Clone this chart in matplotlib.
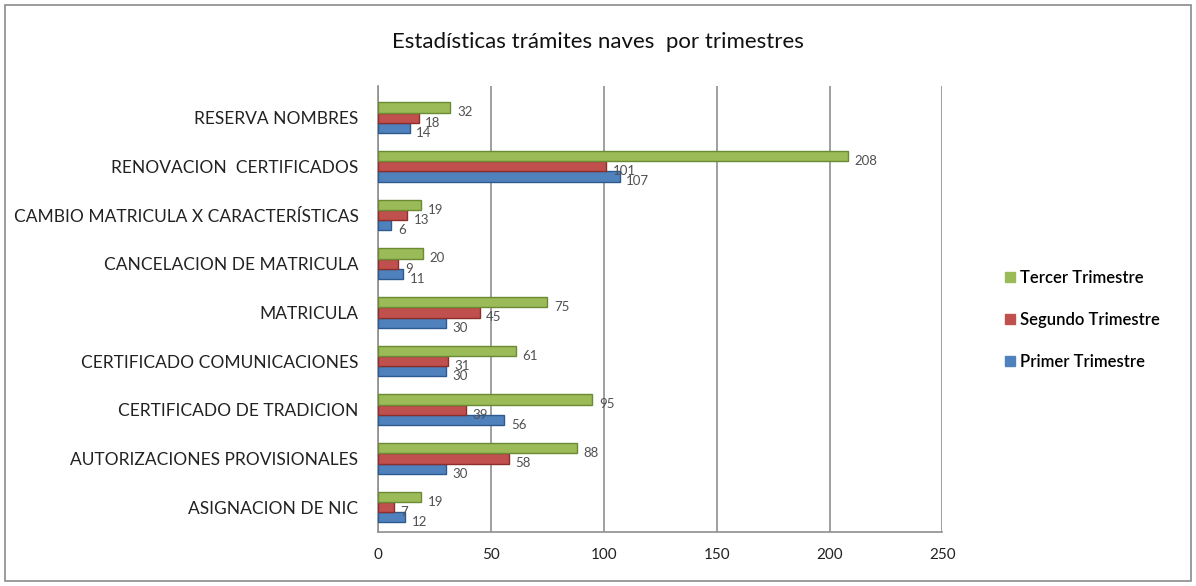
import matplotlib.pyplot as plt
import numpy as np
from matplotlib.patches import Rectangle
from matplotlib.lines import Line2D

categorias = [
    "ASIGNACION DE NIC",
    "AUTORIZACIONES PROVISIONALES",
    "CERTIFICADO DE TRADICION",
    "CERTIFICADO COMUNICACIONES",
    "MATRICULA",
    "CANCELACION DE MATRICULA",
    "CAMBIO MATRICULA X CARACTERÍSTICAS",
    "RENOVACION  CERTIFICADOS",
    "RESERVA NOMBRES",
]
primer = [12, 30, 56, 30, 30, 11, 6, 107, 14]
segundo = [7, 58, 39, 31, 45, 9, 13, 101, 18]
tercer = [19, 88, 95, 61, 75, 20, 19, 208, 32]

series = [
    ("Primer Trimestre", primer, "#4F81BD", "#2c5a8f"),
    ("Segundo Trimestre", segundo, "#C0504D", "#8c2f2c"),
    ("Tercer Trimestre", tercer, "#9BBB59", "#6a8a33"),
]

fuente = ["Lato", "DejaVu Sans"]

fig = plt.figure(figsize=(11.96, 5.86), dpi=100)
fig.patches.append(Rectangle((0.004, 0.008), 0.992, 0.984, transform=fig.transFigure,
                             fill=False, edgecolor="#8a8a8a", linewidth=1.2))
ax = fig.add_axes([0.316, 0.093, 0.472, 0.761])

y = np.arange(len(categorias))
alto = 0.21
for i, (nombre, vals, color, borde) in enumerate(series):
    pos = y + (i - 1) * alto
    ax.barh(pos, vals, height=alto, color=color, edgecolor=borde, linewidth=1.0,
            label=nombre, zorder=3)
    for p, v in zip(pos, vals):
        ax.text(v + 3, p - 0.1, str(v), va="center", ha="left", fontsize=9.5,
                color="#505050", family=fuente, zorder=4)

ax.set_xlim(0, 250)
ax.set_ylim(-0.5, 8.66)
ax.set_xticks(np.arange(0, 251, 50))
ax.set_yticks(y)
ax.set_yticklabels(categorias, family=fuente, fontsize=12.5, color="#222222")
for t in ax.get_xticklabels():
    t.set_family(fuente)
    t.set_fontsize(11)
    t.set_color("#222222")
ax.tick_params(axis="y", length=0, pad=14)
ax.tick_params(axis="x", length=0, pad=12)
ax.xaxis.grid(True, color="#8f8f8f", linewidth=1.2, zorder=0)
for lado in ["top", "right"]:
    ax.spines[lado].set_visible(False)
ax.spines["left"].set_color("#8f8f8f")
ax.spines["left"].set_linewidth(1.2)
ax.spines["bottom"].set_color("#8f8f8f")
ax.spines["bottom"].set_linewidth(1.2)

fig.text(0.5, 0.928, "Estadísticas trámites naves  por trimestres", ha="center",
         va="center", fontsize=16, family=fuente, color="#111111")

manejadores = [Line2D([], [], marker="s", linestyle="", markersize=7,
                      markerfacecolor=c, markeredgecolor=c) for _, _, c, _ in series[::-1]]
nombres = [n for n, _, _, _ in series[::-1]]
fig.legend(manejadores, nombres, loc="center left", bbox_to_anchor=(0.825, 0.454),
           frameon=False, labelspacing=1.55, handletextpad=0.1, handlelength=1.0,
           prop={"family": fuente, "size": 12, "weight": "semibold"})

fig.savefig("out.png", dpi=100)
